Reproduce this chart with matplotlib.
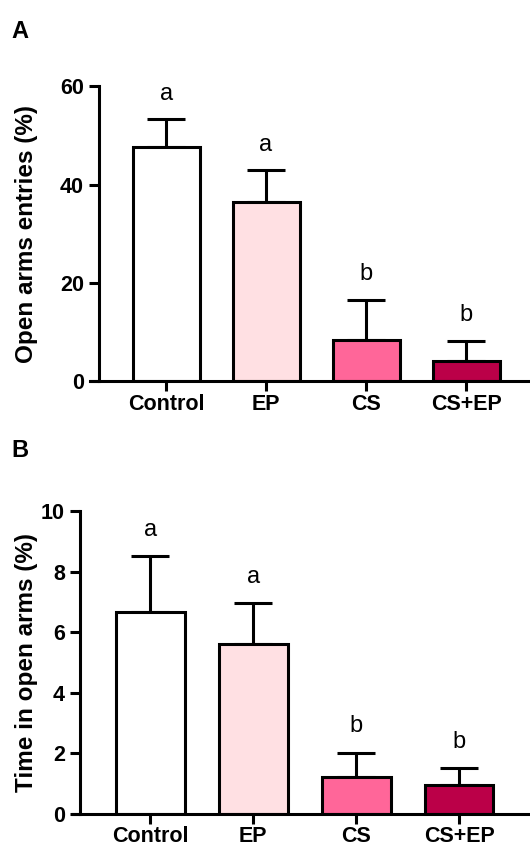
import matplotlib
matplotlib.use('Agg')
import matplotlib.pyplot as plt

plt.rcParams['font.family'] = ['Liberation Sans', 'DejaVu Sans']

groups = ['Control', 'EP', 'CS', 'CS+EP']
colors = ['#ffffff', '#ffe0e3', '#ff6699', '#bb0048']

entries_mean = [47.6, 36.5, 8.3, 4.2]
entries_err = [5.7, 6.4, 8.3, 4.0]
entries_letters = ['a', 'a', 'b', 'b']

time_mean = [6.65, 5.60, 1.22, 0.96]
time_err = [1.87, 1.37, 0.80, 0.56]
time_letters = ['a', 'a', 'b', 'b']

lw = 2.2
fig = plt.figure(figsize=(5.30, 8.47), dpi=100)


def panel(rect, means, errs, letters, ylim, yticks, ylabel, xlim, spine_x, letter_pad, labelpad):
    ax = fig.add_axes(rect)
    x = list(range(len(groups)))
    ax.bar(x, means, width=0.67, color=colors, edgecolor='black', linewidth=lw, zorder=2)
    ax.errorbar(x, means, yerr=[[0] * len(errs), errs], fmt='none', ecolor='black',
                elinewidth=lw, capsize=14, capthick=lw, zorder=1)
    for xi, m, e, l in zip(x, means, errs, letters):
        ax.text(xi, m + e + letter_pad, l, ha='center', va='bottom', fontsize=17)
    ax.spines['top'].set_visible(False)
    ax.spines['right'].set_visible(False)
    ax.spines['left'].set_position(('data', spine_x))
    ax.spines['left'].set_linewidth(lw)
    ax.spines['bottom'].set_linewidth(lw)
    ax.set_xlim(*xlim)
    ax.set_ylim(*ylim)
    ax.set_yticks(yticks)
    ax.set_yticklabels([str(v) for v in yticks], fontsize=15.5, fontweight='bold')
    ax.set_xticks(x)
    ax.set_xticklabels(groups, fontsize=15.5, fontweight='bold')
    ax.set_ylabel(ylabel, fontsize=17.5, fontweight='bold', labelpad=labelpad)
    ax.tick_params(axis='y', width=lw, length=7, pad=4)
    ax.tick_params(axis='x', width=lw, length=7, pad=2)
    ax.spines['left'].set_bounds(ylim[0], ylim[1])
    ax.patch.set_visible(False)
    return ax


panel([0.170, 0.550, 0.830, 0.348], entries_mean, entries_err, entries_letters,
      (0, 60), [0, 20, 40, 60], 'Open arms entries (%)', (-0.76, 3.64), -0.67, 3.0, 16)
panel([0.138, 0.0393, 0.862, 0.3574], time_mean, time_err, time_letters,
      (0, 10), [0, 2, 4, 6, 8, 10], 'Time in open arms (%)', (-0.75, 3.69), -0.68, 0.5, 2)

fig.text(0.022, 0.963, 'A', fontsize=17, fontweight='bold', va='center')
fig.text(0.022, 0.468, 'B', fontsize=17, fontweight='bold', va='center')

fig.savefig('out.png', dpi=100)
